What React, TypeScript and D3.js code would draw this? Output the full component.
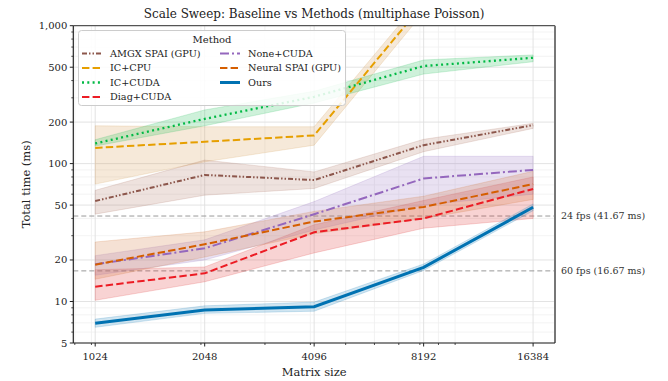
import { useEffect, useRef } from 'react'
import * as d3 from 'd3'

const SIZES = [1024, 2048, 4096, 8192, 16384]

// per-method mean and band (lo/hi), ms
const AMGX_MEAN = [53.5, 82.7, 76, 136, 190]
const AMGX_LO = [43, 59, 66, 122, 180]
const AMGX_HI = [64, 106, 87, 150, 196]
const ICCPU_MEAN = [130, 144, 160, 1450, 3000]
const ICCPU_LO = [71, 103, 136, 1250, 2600]
const ICCPU_HI = [188, 185, 185, 1650, 3400]
const ICCUDA_MEAN = [140, 211, 305, 510, 585]
const ICCUDA_LO = [134, 188, 275, 446, 548]
const ICCUDA_HI = [149, 245, 335, 564, 614]
const DIAG_MEAN = [12.8, 16, 31.8, 40, 65.5]
const DIAG_LO = [10.2, 13.9, 22.5, 34, 40]
const DIAG_HI = [17, 17.8, 36, 54, 80]
const NONE_MEAN = [18.6, 24.3, 42.9, 78, 90]
const NONE_LO = [15.5, 20, 33, 50, 60]
const NONE_HI = [21.5, 28, 53, 113, 113]
const NEURAL_MEAN = [18.5, 26, 38, 48.5, 71]
const NEURAL_LO = [14.5, 21, 31, 40, 55]
const NEURAL_HI = [27, 32, 45, 58, 88]
const OURS_MEAN = [6.95, 8.67, 9.16, 17.7, 48.2]
const OURS_LO = [6.5, 8.2, 8.5, 16.8, 45.5]
const OURS_HI = [7.45, 9.3, 9.9, 18.7, 51]

const LABELS = ['AMGX SPAI (GPU)', 'IC+CPU', 'IC+CUDA', 'Diag+CUDA', 'None+CUDA', 'Neural SPAI (GPU)', 'Ours']
const MEANS = [AMGX_MEAN, ICCPU_MEAN, ICCUDA_MEAN, DIAG_MEAN, NONE_MEAN, NEURAL_MEAN, OURS_MEAN]
const LOS = [AMGX_LO, ICCPU_LO, ICCUDA_LO, DIAG_LO, NONE_LO, NEURAL_LO, OURS_LO]
const HIS = [AMGX_HI, ICCPU_HI, ICCUDA_HI, DIAG_HI, NONE_HI, NEURAL_HI, OURS_HI]
const COLORS = ['#8c564b', '#E69F00', '#00b944', '#ec1c24', '#9467bd', '#D55E00', '#0072B2']
const BAND_COLORS = ['#b07a6a', '#d49a50', '#22c058', '#e03838', '#9a78c4', '#d0783a', '#2a88c0']
const DASHES = ['5,2,1.5,2,1.5,2', '7.4,3.2', '2,3.3', '7.4,3.2', '9,3,2,3', '7.4,3.2', null]
const WIDTHS = [2, 2, 2.3, 2, 2, 2, 3]

const Y_TICKS = [5, 10, 20, 50, 100, 200, 500, 1000]
const FPS_LINES = [41.67, 16.67]
const FPS_LABELS = ['24 fps (41.67 ms)', '60 fps (16.67 ms)']

const FONT = 'DejaVu Serif'

export default function App() {
  const svgRef = useRef<SVGSVGElement>(null)

  useEffect(() => {
    const W = 668, H = 381
    const L = 73.3, R = 555, T = 25.7, B = 343
    const svg = d3.select(svgRef.current!).attr('width', W).attr('height', H)
    svg.selectAll('*').remove()
    svg.append('rect').attr('width', W).attr('height', H).attr('fill', 'white')

    const x = d3.scaleLog().base(2).domain([1024 * 2 ** -0.2, 16384 * 2 ** 0.2]).range([L, R])
    const y = d3.scaleLog().domain([5, 1000]).range([B, T])

    svg.append('defs').append('clipPath').attr('id', 'plot')
      .append('rect').attr('x', L).attr('y', T).attr('width', R - L).attr('height', B - T)

    // grid
    const xMinor = d3.range(900, 10001, 100).filter(v => v < 1000 || v % 1000 === 0).filter(v => v >= x.domain()[0])
    const yMinor: number[] = []
    ;[1, 10, 100].forEach(d => [6, 7, 8, 9].forEach(k => yMinor.push(k * d)))
    ;[10, 100].forEach(d => [3, 4].forEach(k => yMinor.push(k * d)))
    const grid = svg.append('g')
    xMinor.forEach(v => grid.append('line').attr('x1', x(v)).attr('x2', x(v)).attr('y1', T).attr('y2', B)
      .attr('stroke', '#f0f0f0').attr('stroke-width', 0.8))
    yMinor.forEach(v => grid.append('line').attr('x1', L).attr('x2', R).attr('y1', y(v)).attr('y2', y(v))
      .attr('stroke', '#f0f0f0').attr('stroke-width', 0.8))
    SIZES.forEach(v => grid.append('line').attr('x1', x(v)).attr('x2', x(v)).attr('y1', T).attr('y2', B)
      .attr('stroke', '#e0e0e0').attr('stroke-width', 0.9))
    Y_TICKS.forEach(v => grid.append('line').attr('x1', L).attr('x2', R).attr('y1', y(v)).attr('y2', y(v))
      .attr('stroke', '#e0e0e0').attr('stroke-width', 0.9))

    // fps reference lines
    FPS_LINES.forEach((v, i) => {
      svg.append('line').attr('x1', L).attr('x2', R).attr('y1', y(v)).attr('y2', y(v))
        .attr('stroke', '#999').attr('stroke-width', 1).attr('stroke-dasharray', '5,3')
      svg.append('text').attr('x', 561).attr('y', y(v)).attr('dy', '0.35em')
        .attr('font-family', FONT).attr('font-size', 9.5).attr('fill', '#333').text(FPS_LABELS[i])
    })

    const plot = svg.append('g').attr('clip-path', 'url(#plot)')
    const area = d3.area<number>().x((_, i) => x(SIZES[i]))
    const line = d3.line<number>().x((_, i) => x(SIZES[i])).y(d => y(d))

    LABELS.forEach((_, k) => {
      plot.append('path')
        .attr('d', area.y0((_, i) => y(LOS[k][i])).y1((_, i) => y(HIS[k][i]))(MEANS[k]))
        .attr('fill', BAND_COLORS[k]).attr('fill-opacity', 0.22)
        .attr('stroke', BAND_COLORS[k]).attr('stroke-opacity', 0.25).attr('stroke-width', 0.8)
    })
    LABELS.forEach((_, k) => {
      const p = plot.append('path').attr('d', line(MEANS[k])).attr('fill', 'none')
        .attr('stroke', COLORS[k]).attr('stroke-width', WIDTHS[k])
      if (DASHES[k]) p.attr('stroke-dasharray', DASHES[k]!)
    })

    // axes
    const ax = svg.append('g').attr('font-family', FONT).attr('fill', '#222')
    ax.append('line').attr('x1', L).attr('x2', R).attr('y1', T).attr('y2', T).attr('stroke', '#333').attr('stroke-width', 1)
    ax.append('line').attr('x1', R).attr('x2', R).attr('y1', T).attr('y2', B).attr('stroke', '#777').attr('stroke-width', 2)
    ax.append('line').attr('x1', L).attr('x2', L).attr('y1', T).attr('y2', B).attr('stroke', '#222').attr('stroke-width', 1.2)
    ax.append('line').attr('x1', L).attr('x2', R).attr('y1', B).attr('y2', B).attr('stroke', '#222').attr('stroke-width', 1.2)

    xMinor.forEach(v => ax.append('line').attr('x1', x(v)).attr('x2', x(v)).attr('y1', B).attr('y2', B + 2)
      .attr('stroke', '#222').attr('stroke-width', 0.8))
    SIZES.forEach(v => {
      ax.append('line').attr('x1', x(v)).attr('x2', x(v)).attr('y1', B).attr('y2', B + 3.5)
        .attr('stroke', '#222').attr('stroke-width', 1)
      ax.append('text').attr('x', x(v)).attr('y', B + 17).attr('text-anchor', 'middle')
        .attr('font-size', 10).text(String(v))
    })
    yMinor.forEach(v => ax.append('line').attr('x1', L - 2).attr('x2', L).attr('y1', y(v)).attr('y2', y(v))
      .attr('stroke', '#222').attr('stroke-width', 0.8))
    Y_TICKS.forEach(v => {
      ax.append('line').attr('x1', L - 3.5).attr('x2', L).attr('y1', y(v)).attr('y2', y(v))
        .attr('stroke', '#222').attr('stroke-width', 1)
      ax.append('text').attr('x', L - 6).attr('y', y(v)).attr('dy', '0.35em').attr('text-anchor', 'end')
        .attr('font-size', 10).text(d3.format(',')(v))
    })

    ax.append('text').attr('x', (L + R) / 2).attr('y', 376).attr('text-anchor', 'middle')
      .attr('font-size', 11.5).text('Matrix size')
    ax.append('text').attr('transform', `translate(30,${(T + B) / 2}) rotate(-90)`).attr('text-anchor', 'middle')
      .attr('font-size', 11.5).text('Total time (ms)')
    ax.append('text').attr('x', (L + R) / 2).attr('y', 18).attr('text-anchor', 'middle')
      .attr('font-size', 12).text('Scale Sweep: Baseline vs Methods (multiphase Poisson)')

    // legend
    const lg = svg.append('g').attr('font-family', FONT)
    lg.append('rect').attr('x', 78.5).attr('y', 30.5).attr('width', 267).attr('height', 75).attr('rx', 3)
      .attr('fill', 'white').attr('fill-opacity', 0.85).attr('stroke', '#ccc').attr('stroke-width', 1)
    lg.append('text').attr('x', 212).attr('y', 39).attr('dy', '0.35em').attr('text-anchor', 'middle')
      .attr('font-size', 10).attr('fill', '#222').text('Method')
    LABELS.forEach((lab, k) => {
      const col = k < 4 ? 0 : 1
      const row = k < 4 ? k : k - 4
      const x0 = col === 0 ? 82 : 220
      const yy = 53.5 + row * 14.5
      const s = lg.append('line').attr('x1', x0).attr('x2', x0 + 20).attr('y1', yy).attr('y2', yy)
        .attr('stroke', COLORS[k]).attr('stroke-width', WIDTHS[k])
      if (DASHES[k]) s.attr('stroke-dasharray', DASHES[k]!)
      lg.append('text').attr('x', x0 + 28).attr('y', yy).attr('dy', '0.35em')
        .attr('font-size', 9.7).attr('fill', '#222').text(lab)
    })
  }, [])

  return <svg ref={svgRef} style={{ position: 'absolute', left: 0, top: 0 }} />
}
